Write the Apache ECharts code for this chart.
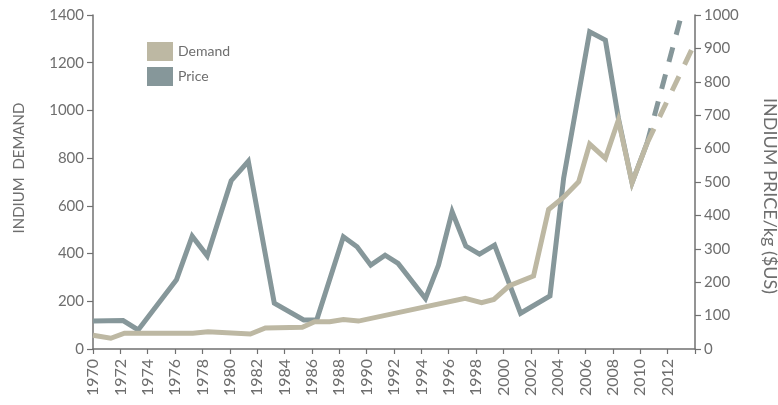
<!DOCTYPE html>
<html>
<head>
<meta charset="utf-8">
<script src="https://cdn.jsdelivr.net/npm/echarts@6/dist/echarts.min.js"></script>
<style>
html,body{margin:0;padding:0;background:#fff;}
#c{width:778px;height:405px;}
</style>
</head>
<body>
<div id="c"></div>
<script>
// Price (right axis, $US/kg) — x positions
var priceYears  = [1970.0,1972.2,1973.3,1976.1,1977.25,1978.35,1980.1,1981.35,1983.25,1985.4,1986.35,1988.3,1989.3,1990.3,1991.35,1992.3,1994.3,1995.25,1996.25,1997.25,1998.25,1999.35,2001.25,2003.4,2004.4,2006.3,2007.45,2008.4,2009.4,2010.5];
var priceValues = [84,85,57,207,338,279,504,562,137,87,87,336,306,251,281,256,151,251,411,308,284,311,107,159,512,950,925,691,498,617];
// Demand (left axis)
var demandYears  = [1970.0,1971.3,1972.3,1977.3,1978.4,1981.5,1982.6,1985.3,1986.2,1987.3,1988.3,1989.4,1997.2,1998.4,1999.3,2000.4,2002.2,2003.3,2004.4,2005.5,2006.3,2007.45,2008.4,2009.4,2010.5];
var demandValues = [58,45,66,66,72,63,88,91,114,114,124,117,212,194,208,264,306,585,636,701,859,799,960,697,863];
// Projections (dashed)
var priceProjYears  = [2010.5, 2012.9];
var priceProjValues = [617, 983];
var demandProjYears  = [2010.5, 2013.8];
var demandProjValues = [863, 1260];

var xMin = 1970, xMax = 2014, xStep = 2;
var leftMax = 1400, leftStep = 200;
var rightMax = 1000, rightStep = 100;

function pairs(xs, ys){ return xs.map(function(x,i){ return [x, ys[i]]; }); }

var DEMAND = '#bdb8a3', PRICE = '#86979a';
var AX = '#707070', TXT = '#6e6e6e', FONT = 'Lato';

var chart = echarts.init(document.getElementById('c'));
chart.setOption({
  animation: false,
  textStyle: {fontFamily: FONT},
  grid: {left: 93, right: 83, top: 15, bottom: 56},
  legend: {
    orient: 'vertical', left: 142, top: 37,
    itemWidth: 26, itemHeight: 19, itemGap: 6,
    icon: 'rect',
    data: ['Demand', 'Price'],
    textStyle: {color: TXT, fontSize: 14, fontFamily: FONT}
  },
  xAxis: {
    type: 'value', min: xMin, max: xMax, interval: xStep,
    splitLine: {show: false},
    axisLine: {lineStyle: {color: AX, width: 1.5}},
    axisTick: {length: 5, lineStyle: {color: AX, width: 1.2}},
    axisLabel: {
      rotate: 90, margin: 10, color: TXT, fontSize: 16, fontFamily: FONT,
      formatter: function(v){ return v === xMax ? '' : String(v); }
    }
  },
  yAxis: [{
    type: 'value', min: 0, max: leftMax, interval: leftStep,
    splitLine: {show: false},
    axisLine: {show: true, lineStyle: {color: AX, width: 1.5}},
    axisTick: {show: true, length: 6, lineStyle: {color: AX, width: 1.2}},
    axisLabel: {color: TXT, fontSize: 15, margin: 9, fontFamily: FONT,
      formatter: function(v){ return String(v); }}
  }, {
    type: 'value', min: 0, max: rightMax, interval: rightStep,
    position: 'right',
    splitLine: {show: false},
    axisLine: {show: true, lineStyle: {color: AX, width: 1.5}},
    axisTick: {show: true, length: 6, lineStyle: {color: AX, width: 1.2}},
    axisLabel: {color: TXT, fontSize: 15, margin: 9, fontFamily: FONT,
      formatter: function(v){ return String(v); }}
  }],
  graphic: [{
    type: 'text', x: 19, y: 168, rotation: Math.PI/2,
    style: {text: 'INDIUM  DEMAND', fill: TXT, font: '15px Lato', textAlign: 'center', textVerticalAlign: 'middle'}
  }, {
    type: 'text', x: 770, y: 196, rotation: -Math.PI/2,
    style: {text: 'INDIUM PRICE/kg ($US)', fill: TXT, font: '18px Lato', textAlign: 'center', textVerticalAlign: 'middle'}
  }],
  series: [{
    name: 'Price', type: 'line', yAxisIndex: 1, symbol: 'none',
    data: pairs(priceYears, priceValues),
    itemStyle: {color: PRICE},
    lineStyle: {color: PRICE, width: 5, join: 'miter', miterLimit: 10},
    z: 2
  }, {
    name: 'Demand', type: 'line', yAxisIndex: 0, symbol: 'none',
    data: pairs(demandYears, demandValues),
    itemStyle: {color: DEMAND},
    lineStyle: {color: DEMAND, width: 5, join: 'miter', miterLimit: 10},
    z: 3
  }, {
    name: 'PriceProj', type: 'line', yAxisIndex: 1, symbol: 'none',
    data: pairs(priceProjYears, priceProjValues),
    lineStyle: {color: PRICE, width: 5, type: [15, 13], dashOffset: 0, cap: 'butt'},
    z: 2
  }, {
    name: 'DemandProj', type: 'line', yAxisIndex: 0, symbol: 'none',
    data: pairs(demandProjYears, demandProjValues),
    lineStyle: {color: DEMAND, width: 5, type: [16, 13], dashOffset: 0, cap: 'butt'},
    z: 3
  }]
});
</script>
</body>
</html>
